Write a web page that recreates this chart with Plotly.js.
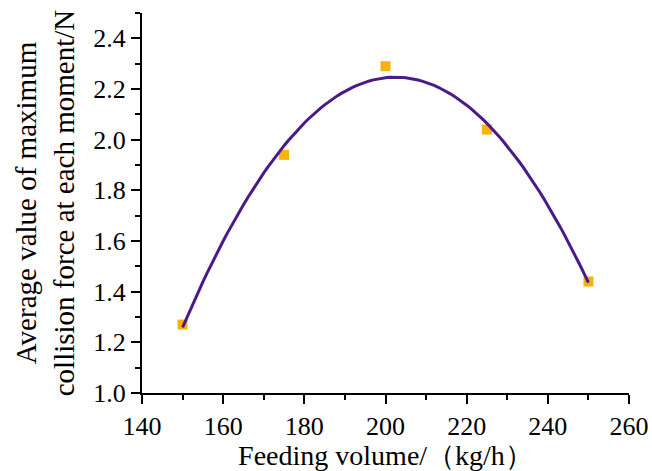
<!DOCTYPE html>
<html>
<head>
<meta charset="utf-8">
<script src="https://cdn.plot.ly/plotly-3.0.1.min.js"></script>
<style>html,body{margin:0;padding:0;background:#fff;}#chart{width:652px;height:471px;}</style>
</head>
<body>
<div id="chart"></div>
<script>
// Measured data points
var feedVolume = [150, 175, 200, 225, 250];
var collisionForce = [1.27, 1.94, 2.29, 2.04, 1.44];

// Quadratic least-squares fit of the measured points (the drawn fit curve)
function quadFit(xs, ys) {
  var n = xs.length, sx = 0, sx2 = 0, sx3 = 0, sx4 = 0, sy = 0, sxy = 0, sx2y = 0;
  for (var i = 0; i < n; i++) {
    var x = xs[i], y = ys[i];
    sx += x; sx2 += x * x; sx3 += x * x * x; sx4 += x * x * x * x;
    sy += y; sxy += x * y; sx2y += x * x * y;
  }
  var M = [[n, sx, sx2, sy], [sx, sx2, sx3, sxy], [sx2, sx3, sx4, sx2y]];
  for (var c = 0; c < 3; c++) {
    for (var r = c + 1; r < 3; r++) {
      var f = M[r][c] / M[c][c];
      for (var k = c; k < 4; k++) M[r][k] -= f * M[c][k];
    }
  }
  var coef = [0, 0, 0];
  for (var r2 = 2; r2 >= 0; r2--) {
    var s = M[r2][3];
    for (var k2 = r2 + 1; k2 < 3; k2++) s -= M[r2][k2] * coef[k2];
    coef[r2] = s / M[r2][r2];
  }
  return coef;
}
var coef = quadFit(feedVolume, collisionForce);
var fitX = [], fitY = [];
var x0 = feedVolume[0], x1 = feedVolume[feedVolume.length - 1];
for (var i = 0; i <= 100; i++) {
  var x = x0 + (x1 - x0) * i / 100;
  fitX.push(x);
  fitY.push(coef[0] + coef[1] * x + coef[2] * x * x);
}

var serif = '"Liberation Serif", "DejaVu Serif", serif';

var traces = [
  {
    x: feedVolume, y: collisionForce, type: 'scatter', mode: 'markers',
    marker: {symbol: 'square', size: 10, color: '#F7B20C'},
    showlegend: false, cliponaxis: false
  },
  {
    x: fitX, y: fitY, type: 'scatter', mode: 'lines',
    line: {color: '#4A1A86', width: 3},
    showlegend: false, cliponaxis: false
  }
];

var layout = {
  width: 652, height: 471,
  margin: {l: 142, r: 23, t: 13, b: 78},
  paper_bgcolor: '#fff', plot_bgcolor: '#fff',
  font: {family: serif, color: '#000', size: 26},
  showlegend: false,
  xaxis: {
    range: [140, 260], tickvals: [140, 160, 180, 200, 220, 240, 260],
    showgrid: false, zeroline: false,
    showline: true, linecolor: '#000', linewidth: 2,
    ticks: 'outside', ticklen: 9, tickwidth: 2, tickcolor: '#000',
    minor: {dtick: 10, tick0: 140, ticks: 'outside', ticklen: 5, tickwidth: 2, tickcolor: '#000', showgrid: false},
    tickfont: {family: serif, size: 26},
    title: {text: 'Feeding volume/（kg/h）', font: {family: serif, size: 28}, standoff: 2}
  },
  yaxis: {
    range: [1.0, 2.5], tickvals: [1.0, 1.2, 1.4, 1.6, 1.8, 2.0, 2.2, 2.4], tickformat: '.1f',
    showgrid: false, zeroline: false,
    showline: true, linecolor: '#000', linewidth: 2,
    ticks: 'outside', ticklen: 9, tickwidth: 2, tickcolor: '#000',
    minor: {dtick: 0.1, tick0: 1.0, ticks: 'outside', ticklen: 5, tickwidth: 2, tickcolor: '#000', showgrid: false},
    tickfont: {family: serif, size: 26},
    title: {text: 'Average value of maximum<br>collision force at each moment/N', font: {family: serif, size: 29}, standoff: 10}
  }
};

Plotly.newPlot('chart', traces, layout, {displayModeBar: false, staticPlot: true});
</script>
</body>
</html>
